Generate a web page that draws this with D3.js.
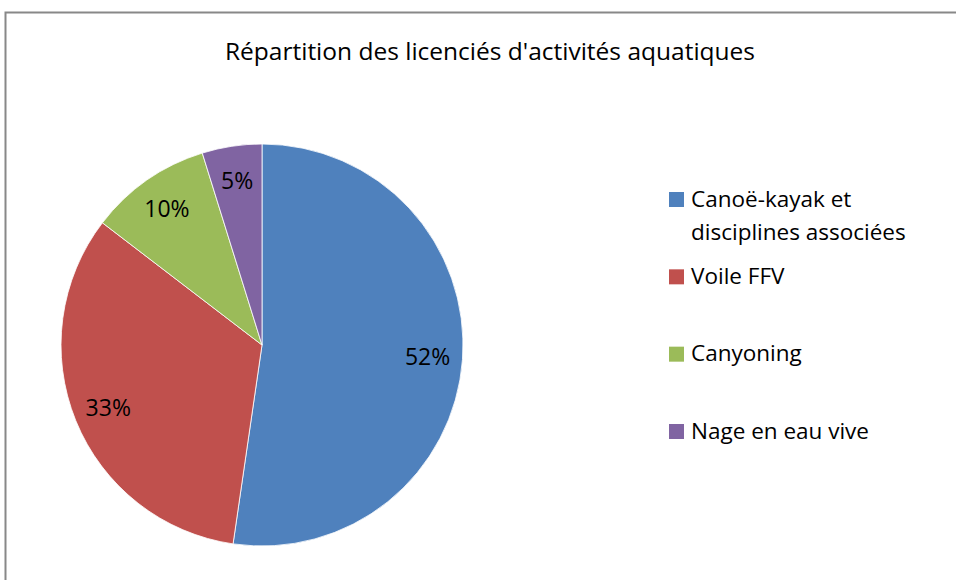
<!DOCTYPE html>
<meta charset="utf-8">
<style>
  body { margin: 0; background: #fff; }
  svg text { font-family: "Open Sans", sans-serif; fill: #000; }
</style>
<body>
<svg width="956" height="580"></svg>
</body>
<script src="https://d3js.org/d3.v7.min.js"></script>
<script>

var title = "Répartition des licenciés d'activités aquatiques";
var categories = ["Canoë-kayak et disciplines associées", "Voile FFV", "Canyoning", "Nage en eau vive"];
var legendLines = [["Canoë-kayak et", "disciplines associées"], ["Voile FFV"], ["Canyoning"], ["Nage en eau vive"]];
var values = [52.3, 33.1, 9.8, 4.8];
var colors = ["#4F81BD", "#C0504D", "#9BBB59", "#8064A2"];

var svg = d3.select("svg"),
    width = +svg.attr("width"),
    height = +svg.attr("height");

// chart border (runs off the right and bottom edges)
svg.append("rect")
    .attr("x", 5.5).attr("y", 12.5)
    .attr("width", width + 20).attr("height", height + 20)
    .attr("fill", "none")
    .attr("stroke", "#888")
    .attr("stroke-width", 2);

svg.append("text")
    .attr("x", 490).attr("y", 60)
    .attr("text-anchor", "middle")
    .style("font-size", "24.5px")
    .text(title);

var cx = 262, cy = 345, radius = 201;

var pie = d3.pie().sort(null).value(d => d)(values);
var arc = d3.arc().innerRadius(0).outerRadius(radius);
var labelArc = d3.arc().innerRadius(166).outerRadius(166);

var g = svg.append("g").attr("transform", "translate(" + cx + "," + cy + ")");

g.selectAll("path")
    .data(pie)
    .join("path")
    .attr("d", arc)
    .attr("fill", (d, i) => colors[i])
    .attr("stroke", "#fff")
    .attr("stroke-width", 0.8);

g.selectAll("text.lbl")
    .data(pie)
    .join("text")
    .attr("class", "lbl")
    .attr("transform", d => "translate(" + labelArc.centroid(d) + ")")
    .attr("text-anchor", "middle")
    .attr("dy", "0.35em")
    .style("font-size", "23px")
    .text(d => Math.round(d.value) + "%");

// legend
var legendY = d3.scalePoint().domain(categories).range([199, 431]);

var lg = svg.append("g").selectAll("g")
    .data(categories)
    .join("g")
    .attr("transform", d => "translate(669," + legendY(d) + ")");

lg.append("rect")
    .attr("x", 0).attr("y", -7)
    .attr("width", 15).attr("height", 15)
    .attr("fill", (d, i) => colors[i]);

lg.append("text")
    .attr("x", 22)
    .attr("y", 7.5)
    .style("font-size", "22.5px")
    .selectAll("tspan")
    .data((d, i) => legendLines[i])
    .join("tspan")
    .attr("x", 22)
    .attr("dy", (d, j) => j === 0 ? 0 : 33)
    .text(d => d);

</script>
